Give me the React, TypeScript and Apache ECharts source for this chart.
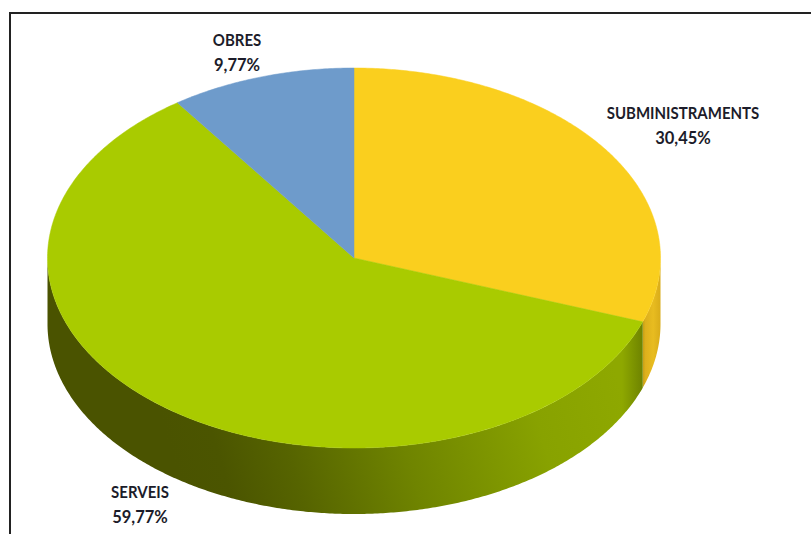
import React, { useEffect, useRef } from "react";
import * as echarts from "echarts";

const categories = ["SUBMINISTRAMENTS", "SERVEIS", "OBRES"];
const values = [30.45, 59.77, 9.77];
const valueLabels = ["30,45%", "59,77%", "9,77%"];

const topColors = ["#FACF1E", "#A9CB00", "#6E9BCB"];
const labelAnchors = [
  [683, 112],
  [140, 491],
  [237, 39],
];
const CX = 354;
const CY = 258;
const RX = 306.5;
const RY = 190;
const DEPTH = 66;
const FONT = 'bold 15px Lato, "Open Sans", sans-serif';

const wallFills = [
  {
    type: "linear",
    global: true,
    x: 640,
    y: 0,
    x2: 662,
    y2: 0,
    colorStops: [
      { offset: 0, color: "#B08C10" },
      { offset: 0.25, color: "#DDB01C" },
      { offset: 0.6, color: "#E8BC20" },
      { offset: 1, color: "#D6A918" },
    ],
  },
  {
    type: "linear",
    global: true,
    x: 190,
    y: 515,
    x2: 620,
    y2: 385,
    colorStops: [
      { offset: 0, color: "#4A5300" },
      { offset: 0.1, color: "#4B5500" },
      { offset: 0.25, color: "#566400" },
      { offset: 0.5, color: "#6F8400" },
      { offset: 0.8, color: "#88A200" },
      { offset: 1, color: "#8EA800" },
    ],
  },
  "#4F6F92",
];
const greenEndShade = {
  type: "linear",
  global: true,
  x: 622,
  y: 0,
  x2: 642,
  y2: 0,
  colorStops: [
    { offset: 0, color: "rgba(40,50,0,0)" },
    { offset: 1, color: "rgba(40,50,0,0.3)" },
  ],
};

const point = (deg: number, dy = 0) => {
  const r = (deg * Math.PI) / 180;
  return [CX + RX * Math.sin(r), CY - RY * Math.cos(r) + dy];
};
const arc = (a: number, b: number, dy = 0) => {
  const n = Math.max(2, Math.ceil(Math.abs(b - a) * 2));
  return Array.from({ length: n + 1 }, (_, i) => point(a + ((b - a) * i) / n, dy));
};

export default function App() {
  const ref = useRef<HTMLDivElement>(null);
  useEffect(() => {
    const chart = echarts.init(ref.current!, undefined, { renderer: "svg" });
    const total = values.reduce((s, v) => s + v, 0);
    chart.setOption({
      animation: false,
      backgroundColor: "#ffffff",
      graphic: [
        { type: "line", shape: { x1: 10, y1: 13, x2: 811, y2: 13 }, style: { stroke: "#222", lineWidth: 2 }, z: 10 },
        { type: "line", shape: { x1: 10, y1: 12, x2: 10, y2: 534 }, style: { stroke: "#222", lineWidth: 2 }, z: 10 },
      ],
      series: [
        {
          type: "custom",
          coordinateSystem: "none",
          silent: true,
          data: categories.map((name, i) => ({ name, value: [values[i]] })),
          renderItem: (params: any, api: any) => {
            const i = params.dataIndex;
            const before = values.slice(0, i).reduce((s, v) => s + v, 0);
            const a = (before / total) * 360;
            const b = ((before + api.value(0)) / total) * 360;
            const children: any[] = [];
            const from = Math.max(a, 90);
            const to = Math.min(b, 270);
            if (to > from) {
              const wall = [...arc(from, to), ...arc(to, from, DEPTH)];
              children.push({ type: "polygon", shape: { points: wall }, style: { fill: wallFills[i] } });
              if (i === 1) {
                children.push({ type: "polygon", shape: { points: wall }, style: { fill: greenEndShade } });
              }
            }
            children.push({
              type: "polygon",
              shape: { points: [[CX, CY], ...arc(a, b)] },
              style: { fill: topColors[i], stroke: topColors[i], lineWidth: 0.5 },
            });
            const [lx, ly] = labelAnchors[i];
            [categories[i], valueLabels[i]].forEach((text, k) => {
              children.push({
                type: "text",
                x: lx,
                y: ly + k * 25,
                scaleX: k === 1 ? 1.1 : 1,
                scaleY: 1.15,
                style: {
                  text,
                  x: 0,
                  y: 0,
                  align: "center",
                  verticalAlign: "middle",
                  font: FONT,
                  fill: "#1C1C2A",
                },
              });
            });
            return { type: "group", children };
          },
        },
      ],
    });
    return () => chart.dispose();
  }, []);
  return <div ref={ref} style={{ position: "absolute", left: 0, top: 0, width: 811, height: 534 }} />;
}
